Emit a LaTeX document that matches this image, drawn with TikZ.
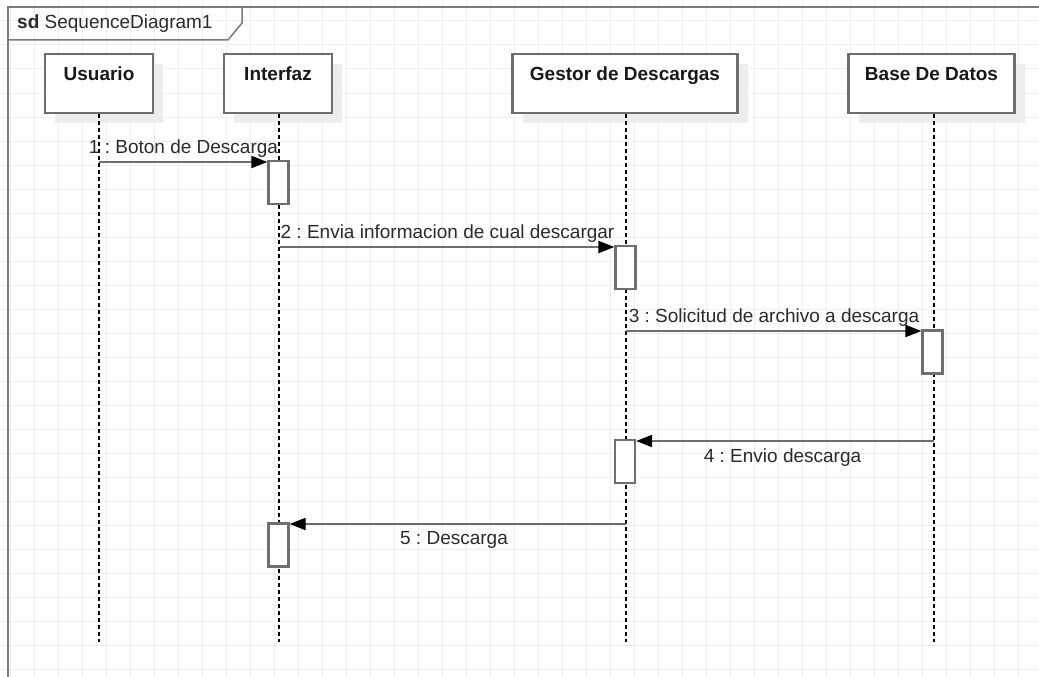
\documentclass[tikz,border=0pt]{standalone}
\usepackage{fontspec}
\setmainfont{Liberation Sans}
\frenchspacing
\usetikzlibrary{arrows.meta,shadows}
\definecolor{gridc}{HTML}{EFEFEF}
\definecolor{framec}{HTML}{7A7A7A}
\definecolor{boxc}{HTML}{6E6E6E}
\definecolor{shadc}{HTML}{EDEDED}
\definecolor{txtc}{HTML}{2B2B2B}
\definecolor{msgc}{HTML}{6E6E6E}
\begin{document}
\begin{tikzpicture}[x=1pt,y=-1pt,
  every node/.style={font=\fontsize{19}{22}\selectfont, text=txtc, inner sep=0pt},
  gridline/.style={draw=gridc, line width=1pt},
  framestyle/.style={draw=framec, line width=1.5pt},
  headbox/.style={draw=boxc, line width=2.2pt, fill=white, minimum width=108pt, minimum height=59pt,
    drop shadow={shadow xshift=10pt, shadow yshift=-10pt, fill=shadc, opacity=1}},
  actbox/.style={draw=boxc, line width=2.2pt, fill=white, minimum width=20pt, minimum height=43pt},
  headtext/.style={anchor=base, font=\fontsize{19}{22}\selectfont\bfseries, text=black!90},
  lifeline/.style={draw=black, line width=1.1pt, dash pattern=on 4pt off 3pt},
  msg/.style={draw=msgc, line width=2pt, -{Triangle[length=16pt,width=12pt,fill=black,color=black]}},
  msglabel/.style={anchor=base}
]
\useasboundingbox (0,0) rectangle (1039,677);
\fill[white] (0,0) rectangle (1039,677);
% grid
\foreach \gx in {10,34,...,1039} \draw[gridline] (\gx,0) -- (\gx,677);
\foreach \gy in {21,45,...,677} \draw[gridline] (0,\gy) -- (1039,\gy);
% frame
\draw[framestyle] (8,677) -- (8,7) -- (1039,7);
\draw[framestyle] (8,40) -- (228,40) -- (242,23) -- (242,7);
\node[anchor=base west] (title) at (17,29) {\textbf{sd} SequenceDiagram1};
% lifeline heads
\node[headbox] (usr) at (99,83.5) {};
\node[headbox] (itf) at (278,83.5) {};
\node[headbox, minimum width=225pt] (gst) at (625,83.5) {};
\node[headbox, minimum width=166pt] (bdd) at (931.5,83.5) {};
\node[headtext] (usrT) at (99,81) {Usuario};
\node[headtext] (itfT) at (278,81) {Interfaz};
\node[headtext] (gstT) at (625,81) {Gestor de Descargas};
\node[headtext] (bddT) at (931.5,81) {Base De Datos};
% lifeline ends
\coordinate (usrE) at (99,642);
\coordinate (itfE) at (279,642);
\coordinate (gstE) at (626,642);
\coordinate (bddE) at (934,642);
\coordinate (usrS) at (99,114);
\coordinate (itfS) at (279,114);
\coordinate (gstS) at (626,114);
\coordinate (bddS) at (934,114);
\draw[lifeline] (usrS) -- (usrE);
\draw[lifeline] (itfS) -- (itfE);
\draw[lifeline] (gstS) -- (gstE);
\draw[lifeline] (bddS) -- (bddE);
% activation boxes
\node[actbox] (a1) at (278.5,182.5) {};
\node[actbox] (a2) at (625.5,267.5) {};
\node[actbox] (a3) at (932.5,352) {};
\node[actbox] (a4) at (625,461.5) {};
\node[actbox] (a5) at (278.5,545) {};
% message start points
\coordinate (m1) at (99,162);
\coordinate (m2) at (280,247);
\coordinate (m3) at (626,331);
\coordinate (m4) at (934,441);
\coordinate (m5) at (626,524);
\draw[msg] (m1) -- (m1 -| a1.west);
\draw[msg] (m2) -- (m2 -| a2.west);
\draw[msg] (m3) -- (m3 -| a3.west);
\draw[msg] (m4) -- (m4 -| a4.east);
\draw[msg] (m5) -- (m5 -| a5.east);
% labels
\node[msglabel] (l1) at (183.5,153) {1 : Boton de Descarga};
\node[msglabel] (l2) at (447.5,238) {2 : Envia informacion de cual descargar};
\node[msglabel] (l3) at (774,322.5) {3 : Solicitud de archivo a descarga};
\node[msglabel] (l4) at (782.5,462.5) {4 : Envio descarga};
\node[msglabel] (l5) at (454,544) {5 : Descarga};
\end{tikzpicture}
\end{document}
